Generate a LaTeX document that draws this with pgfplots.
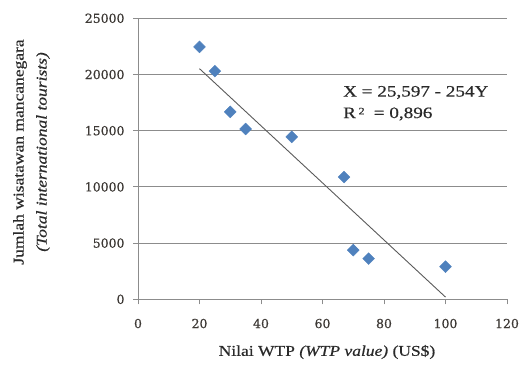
\documentclass[border=0pt]{standalone}
\usepackage{fontspec}
\usepackage{pgfplots}
\pgfplotsset{compat=1.18}
\setmainfont{Liberation Serif}
\newfontfamily\labelfont[FakeStretch=1.17, FakeBold=0.6]{Liberation Serif}
\newfontfamily\eqfont[FakeStretch=1.2, FakeBold=0.5]{Liberation Serif}
\newfontfamily\tickfont[FakeBold=0.7]{DejaVu Serif}
\definecolor{ptblue}{HTML}{4F81BD}
\definecolor{gridgray}{HTML}{8C8C8C}
\definecolor{ticktext}{HTML}{3E3A36}
\definecolor{labeltext}{HTML}{2A2A2A}
\definecolor{trend}{HTML}{5A5A5A}
\begin{document}
\begin{tikzpicture}
\useasboundingbox (0,0) rectangle (521bp,373bp);
\begin{axis}[
  at={(138bp,73.7bp)}, anchor=south west,
  width=369bp, height=281bp, scale only axis,
  xmin=0, xmax=120, ymin=0, ymax=25000,
  axis x line*=bottom, axis y line*=left,
  axis line style={gridgray, line width=0.9bp},
  xtick={0,20,...,120}, ytick={0,5000,...,25000},
  ymajorgrids, grid style={gridgray, line width=0.9bp},
  tick align=outside, major tick length=5bp,
  tick style={gridgray, line width=0.9bp},
  scaled y ticks=false,
  /pgf/number format/assume math mode=true,
  /pgf/number format/1000 sep={},
  tick label style={font=\tickfont\fontsize{12.5}{14}\selectfont, color=ticktext},
  xticklabel style={yshift=-11bp},
  yticklabel style={xshift=-5bp},
  clip=false,
]
\addplot[only marks, mark=square*, mark size=4.2bp, mark options={rotate=45, fill=ptblue, draw=ptblue}]
coordinates {(20,22450) (25,20300) (30,16670) (35,15150) (50,14450) (67,10880) (70,4370) (75,3620) (100,2900)};
\addplot[trend, line width=0.9bp] coordinates {(20,20517) (100,197)};
\end{axis}
\node[rotate=90, text=labeltext, font=\labelfont\fontsize{15}{17}\selectfont] at (20bp,221bp) {Jumlah wisatawan mancanegara};
\node[rotate=90, text=labeltext, font=\labelfont\fontsize{15}{17}\selectfont] at (43bp,221bp) {\itshape (Total international tourists)};
\node[text=labeltext, font=\labelfont\fontsize{15}{17}\selectfont] at (327bp,21bp) {Nilai WTP \textit{(WTP value)} (US\$)};
\node[anchor=west, text=labeltext, font=\eqfont\fontsize{16}{18}\selectfont, inner sep=0pt] at (343bp,280.5bp) {X = 25,597 - 254Y};
\node[anchor=west, text=labeltext, font=\eqfont\fontsize{16}{18}\selectfont, inner sep=0pt] at (343bp,259bp) {R\,\raisebox{0.5ex}{\fontsize{10}{12}\selectfont 2}\; = 0,896};
\end{tikzpicture}
\end{document}
